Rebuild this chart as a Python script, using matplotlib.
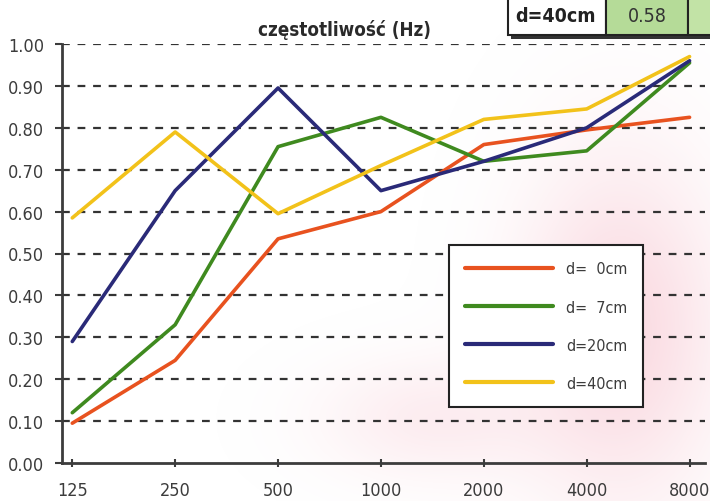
import numpy as np
import matplotlib
matplotlib.use("Agg")
import matplotlib.pyplot as plt
from matplotlib.patches import Rectangle

# dane
czest = ["125", "250", "500", "1000", "2000", "4000", "8000"]
d0 = [0.095, 0.245, 0.535, 0.60, 0.76, 0.795, 0.825]
d7 = [0.12, 0.33, 0.755, 0.825, 0.72, 0.745, 0.955]
d20 = [0.29, 0.65, 0.895, 0.65, 0.72, 0.80, 0.96]
d40 = [0.585, 0.79, 0.595, 0.71, 0.82, 0.845, 0.97]
etykiety = ["d=  0cm", "d=  7cm", "d=20cm", "d=40cm"]
yticks = [0.0, 0.1, 0.2, 0.3, 0.4, 0.5, 0.6, 0.7, 0.8, 0.9, 1.0]

kolory = ["#e8521f", "#3f8a1f", "#2a2a78", "#f2c21a"]
font = ["DejaVu Sans"]
szary = "#3c3c3c"

fig = plt.figure(figsize=(7.1, 5.02), dpi=100)
fig.patch.set_facecolor("white")

# rozowe tlo w prawym dolnym rogu
tlo = fig.add_axes([0, 0, 1, 1], zorder=0)
W, H = 710, 502
xx, yy = np.meshgrid(np.arange(W), np.arange(H))
g = np.exp(-(((xx - 620) / 100.0) ** 2 + ((yy - 330) / 170.0) ** 2))
g += 0.5 * np.exp(-(((xx - 430) / 110.0) ** 2 + ((yy - 420) / 60.0) ** 2))
g = np.clip(g, 0, 1) * 0.35
img = np.ones((H, W, 4))
img[..., 0] = 0.95
img[..., 1] = 0.6
img[..., 2] = 0.68
img[..., 3] = g
tlo.imshow(img, extent=[0, W, H, 0], aspect="auto")
tlo.set_xlim(0, W)
tlo.set_ylim(H, 0)
tlo.axis("off")

ax = fig.add_axes([62 / 710, 38 / 502, (705 - 62) / 710, (464 - 45) / 502], zorder=1)
ax.patch.set_alpha(0)
x = np.arange(len(czest))
for serie, kol, lab in zip([d0, d7, d20, d40], kolory, etykiety):
    ax.plot(x, serie, color=kol, lw=2.6, label=lab, solid_capstyle="round", zorder=3)

ax.set_xlim(-0.1, 6.15)
ax.set_ylim(0, 1.0)
for v in yticks[1:]:
    ax.axhline(v, color="#333333", lw=1.6, ls=(0, (3.5, 3.5)), zorder=1)

ax.set_xticks(x)
ax.set_xticklabels(czest)
ax.set_yticks(yticks)
ax.set_yticklabels(["%.2f" % v for v in yticks])
for t in ax.get_xticklabels() + ax.get_yticklabels():
    t.set_family(font)
    t.set_stretch("condensed")
    t.set_fontsize(13)
    t.set_color(szary)
ax.tick_params(axis="y", length=5, width=1.5, color=szary, pad=8, direction="out")
ax.tick_params(axis="x", length=6, width=1.5, color=szary, pad=10, direction="inout")
for s in ["top", "right"]:
    ax.spines[s].set_visible(False)
for s in ["left", "bottom"]:
    ax.spines[s].set_color(szary)
    ax.spines[s].set_linewidth(2)

ax.text(0.44, 1.012, "częstotliwość (Hz)", transform=ax.transAxes, ha="center", va="bottom",
        fontsize=13.5, fontweight="bold", fontstretch="condensed", color="#2a2a2a", family=font)

leg = ax.legend(loc="lower left", bbox_to_anchor=(0.59, 0.115), frameon=True, fancybox=False,
                handlelength=5.5, handletextpad=0.8, labelspacing=1.45, borderpad=1.0,
                prop={"family": font, "size": 11.5, "stretch": "condensed"})
leg.get_frame().set_edgecolor("#222222")
leg.get_frame().set_linewidth(1.5)
leg.get_frame().set_facecolor("white")
leg.get_frame().set_alpha(1)
for t in leg.get_texts():
    t.set_color(szary)
for l in leg.get_lines():
    l.set_linewidth(3)

# fragment tabelki w prawym gornym rogu
tab = fig.add_axes([0, 0, 1, 1], zorder=2)
tab.set_xlim(0, W)
tab.set_ylim(H, 0)
tab.axis("off")
tab.add_patch(Rectangle((511, -2), 210, 42, facecolor="#333333", edgecolor="none"))
tab.add_patch(Rectangle((508, -5), 98, 41, facecolor="white", edgecolor="#222222", lw=1.5))
tab.add_patch(Rectangle((606, -5), 82, 41, facecolor="#b5db98", edgecolor="#222222", lw=1.5))
tab.add_patch(Rectangle((688, -5), 30, 41, facecolor="#c2e3a6", edgecolor="#222222", lw=1.5))
tab.text(556, 16, "d=40cm", ha="center", va="center", fontsize=14, fontweight="bold",
         fontstretch="condensed", color="#222222", family=font)
tab.text(647, 16, "0.58", ha="center", va="center", fontsize=14, fontstretch="condensed",
         color="#333333", family=font)

fig.savefig("out.png", dpi=100)
